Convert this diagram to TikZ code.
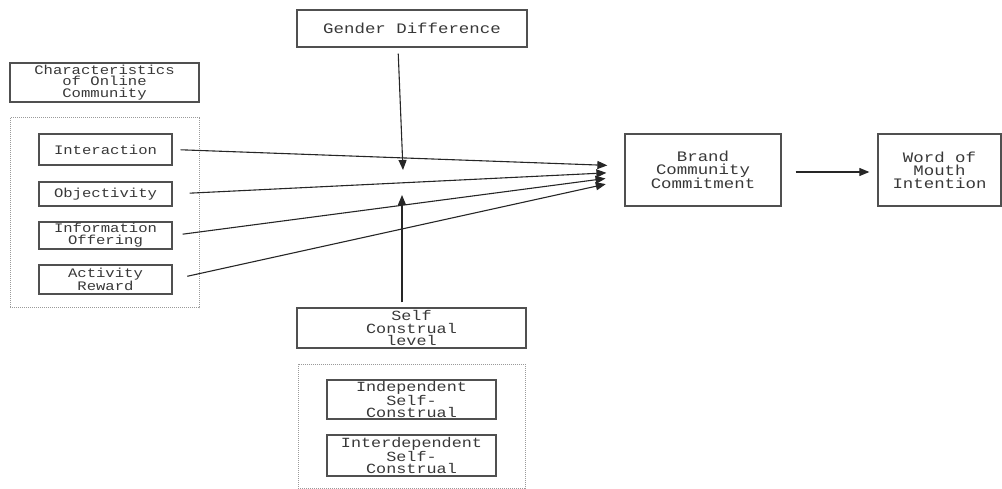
\documentclass[tikz,border=0pt]{standalone}
\usepackage{fontspec}
\newfontfamily\boxfont{Liberation Mono}[FakeStretch=1.2]
\usetikzlibrary{arrows.meta}
\definecolor{boxgray}{HTML}{505050}
\definecolor{txtgray}{HTML}{383838}
\definecolor{dotgray}{HTML}{9A9A9A}
\begin{document}
\begin{tikzpicture}[x=1pt, y=-1pt,
    box/.style={draw=boxgray, line width=1.3pt, text=txtgray, align=center, inner sep=0pt,
      font=\boxfont\fontsize{13}{11.8}\selectfont},
    bigbox/.style={box, font=\boxfont\fontsize{14.5}{13}\selectfont},
    selfbox/.style={box, font=\boxfont\fontsize{14}{12.8}\selectfont},
    dotframe/.style={draw=dotgray, line width=1pt, densely dotted},
    link/.style={draw=black!85, line width=1.1pt, -{Triangle[length=10pt, width=8pt]}}]
    \useasboundingbox (0,0) rectangle (1002,489);
    % left block
    \node[box, minimum width=189pt, minimum height=39pt] (charact) at (104.5,82.5) {Characteristics\\of Online\\Community};
    \draw[dotframe] (10,118) rectangle (199,308);
    \node[box, minimum width=133pt, minimum height=31pt] (inter) at (105.5,149.5) {Interaction};
    \node[box, minimum width=133pt, minimum height=24pt] (objec) at (105.5,194) {Objectivity};
    \node[box, minimum width=133pt, minimum height=27pt] (info) at (105.5,235.5) {Information\\Offering};
    \node[box, minimum width=133pt, minimum height=29pt] (activ) at (105.5,279.5) {Activity\\Reward};
    % moderators
    \node[bigbox, minimum width=230pt, minimum height=37pt] (gender) at (412,28.5) {Gender Difference};
    \node[selfbox, minimum width=229pt, minimum height=40pt] (selfc) at (411.5,328) {Self\\Construal\\level};
    \draw[dotframe] (298,364) rectangle (525,488);
    \node[selfbox, minimum width=169pt, minimum height=39pt] (indep) at (411.5,399.5) {Independent\\Self-\\Construal};
    \node[selfbox, minimum width=169pt, minimum height=41pt] (interd) at (411.5,455.5) {Interdependent\\Self-\\Construal};
    % outcomes
    \node[bigbox, minimum width=156pt, minimum height=72pt] (brand) at (703,170) {Brand\\Community\\Commitment};
    \node[bigbox, minimum width=123pt, minimum height=72pt] (word) at (939.5,170) {Word of\\Mouth\\Intention};
    \coordinate (gmeet) at (403,170);
    \coordinate (smeet) at (402,195);
    % connectors
    \draw[link, shorten <=8pt, shorten >=17pt] (inter.east) -- ([yshift=4pt]brand.west);
    \draw[link, shorten <=17pt, shorten >=18pt] (objec.east) -- ([yshift=-2pt]brand.west);
    \draw[link, shorten <=10pt, shorten >=19pt] (info.east) -- ([yshift=-6pt]brand.west);
    \draw[link, shorten <=15pt, shorten >=19pt] (activ.east) -- ([yshift=-10pt]brand.west);
    \draw[link, shorten <=6pt] ([xshift=-14pt]gender.south) -- (gmeet);
    \draw[link, shorten <=5pt] ([xshift=-9.5pt]selfc.north) -- (smeet);
    \draw[link, shorten <=14pt, shorten >=8pt] ([yshift=-2pt]brand.east) -- ([yshift=-2pt]word.west);
\end{tikzpicture}
\end{document}
